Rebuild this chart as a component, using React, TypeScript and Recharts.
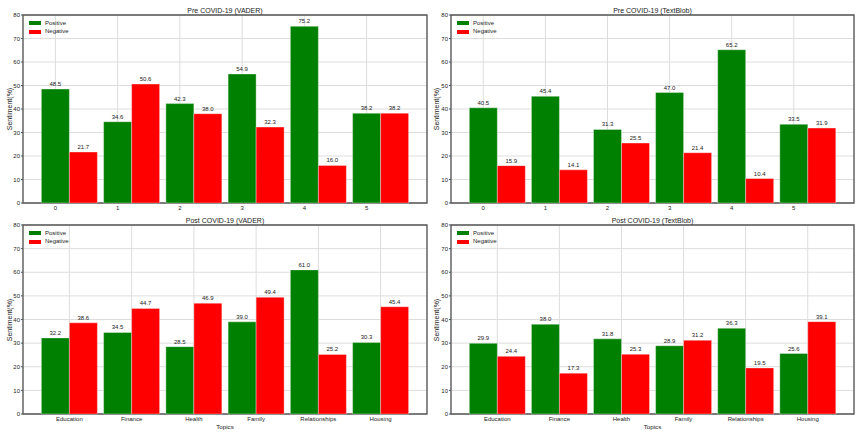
import React from 'react'
import { BarChart, Bar, XAxis, YAxis, CartesianGrid, LabelList, ReferenceArea } from 'recharts'

const TOPICS = ['Education', 'Finance', 'Health', 'Family', 'Relationships', 'Housing']
const TOPIC_IDS = ['0', '1', '2', '3', '4', '5']

const preVaderPos = [48.5, 34.6, 42.3, 54.9, 75.2, 38.2]
const preVaderNeg = [21.7, 50.6, 38.0, 32.3, 16.0, 38.2]
const preBlobPos = [40.5, 45.4, 31.3, 47.0, 65.2, 33.5]
const preBlobNeg = [15.9, 14.1, 25.5, 21.4, 10.4, 31.9]
const postVaderPos = [32.2, 34.5, 28.5, 39.0, 61.0, 30.3]
const postVaderNeg = [38.6, 44.7, 46.9, 49.4, 25.2, 45.4]
const postBlobPos = [29.9, 38.0, 31.8, 28.9, 36.3, 25.6]
const postBlobNeg = [24.4, 17.3, 25.3, 31.2, 19.5, 39.1]

const Y_TICKS = [0, 10, 20, 30, 40, 50, 60, 70, 80]

const GREEN = '#008000'
const RED = '#ff0000'
const FONT = '"Liberation Sans", Arial, sans-serif'
const TEXT = '#222'

// matplotlib-like layout: bar width 0.45, positive at i, negative at i + 0.45
const BAR_W = 0.45

function Txt({ x, y, children, size = 7, rotate = false }: any) {
  return (
    <div
      style={{
        position: 'absolute',
        left: x,
        top: y,
        transform: `translate(-50%, -50%)${rotate ? ' rotate(-90deg)' : ''}`,
        fontSize: size,
        lineHeight: 1,
        whiteSpace: 'nowrap',
        color: TEXT,
      }}
    >
      {children}
    </div>
  )
}

function Panel({ left, top, width, height, yAxisWidth, marginRight, xAxisHeight, title, labels, pos, neg, tickAtGroup, xLabel }: any) {
  const rows = labels.map((l: string, i: number) => ({ x: i + BAR_W / 2, label: l, pos: pos[i], neg: neg[i] }))
  const lo = -BAR_W / 2
  const hi = labels.length - 1 + BAR_W * 1.5
  const pad = (hi - lo) * 0.05
  const domain = [lo - pad, hi + pad]
  const ticks = tickAtGroup ? rows.map((r: any) => r.x) : labels.map((_: string, i: number) => i)
  const fmt = (v: number) => labels[Math.round(tickAtGroup ? v - BAR_W / 2 : v)]

  const plotLeft = left + yAxisWidth
  const plotRight = left + width - marginRight
  const plotTop = top + 15
  const plotBottom = top + height - xAxisHeight
  const cx = (plotLeft + plotRight) / 2

  return (
    <>
      <div style={{ position: 'absolute', left, top }}>
        <BarChart
          width={width}
          height={height}
          data={rows}
          margin={{ top: 15, right: marginRight, bottom: 0, left: 0 }}
          barCategoryGap="5%"
          barGap={0}
        >
          <CartesianGrid stroke="#dddddd" strokeWidth={1} />
          <XAxis
            dataKey="x"
            type="number"
            domain={domain}
            allowDataOverflow
            ticks={ticks}
            tickFormatter={fmt}
            interval={0}
            height={xAxisHeight}
            axisLine={false}
            tickLine={false}
            tickSize={2}
            tickMargin={1}
            tick={{ fontSize: 6, fill: TEXT, fontFamily: FONT }}
          />
          <YAxis
            domain={[0, 80]}
            ticks={Y_TICKS}
            width={yAxisWidth}
            axisLine={false}
            tickSize={2}
            tickMargin={1}
            tickLine={{ stroke: '#555' }}
            tick={{ fontSize: 6, fill: TEXT, fontFamily: FONT }}
          />
          <Bar dataKey="pos" name="Positive" fill={GREEN} stroke="#ffffff" strokeOpacity={0.35} strokeWidth={1} isAnimationActive={false}>
            <LabelList dataKey="pos" position="top" offset={3} formatter={(v: any) => Number(v).toFixed(1)} style={{ fontSize: 6, fill: TEXT, fontFamily: FONT }} />
          </Bar>
          <Bar dataKey="neg" name="Negative" fill={RED} stroke="#ffffff" strokeOpacity={0.35} strokeWidth={1} isAnimationActive={false}>
            <LabelList dataKey="neg" position="top" offset={3} formatter={(v: any) => Number(v).toFixed(1)} style={{ fontSize: 6, fill: TEXT, fontFamily: FONT }} />
          </Bar>
          <ReferenceArea x1={domain[0]} x2={domain[1]} y1={0} y2={80} fill="none" stroke="#555" strokeWidth={1.3} ifOverflow="visible" />
        </BarChart>
      </div>
      <Txt x={cx} y={top + 9.5} size={7}>{title}</Txt>
      <Txt x={left + (left === 0 ? 9 : 6)} y={(plotTop + plotBottom) / 2} size={7} rotate>Sentiment(%)</Txt>
      {xLabel && <Txt x={cx} y={plotBottom + 13} size={6.2}>{xLabel}</Txt>}
      <div style={{ position: 'absolute', left: plotLeft + 5.5, top: plotTop + 6, width: 12, height: 4, background: GREEN }} />
      <div style={{ position: 'absolute', left: plotLeft + 5.5, top: plotTop + 14.8, width: 12, height: 4, background: RED }} />
      <div style={{ position: 'absolute', left: plotLeft + 22, top: plotTop + 4.5, fontSize: 6, lineHeight: 1, color: TEXT }}>Positive</div>
      <div style={{ position: 'absolute', left: plotLeft + 22, top: plotTop + 13.3, fontSize: 6, lineHeight: 1, color: TEXT }}>Negative</div>
    </>
  )
}

export default function App() {
  return (
    <div style={{ position: 'absolute', left: 0, top: 0, width: 861, height: 436, background: '#fff', fontFamily: FONT }}>
      <Panel left={0} top={0} width={430} height={218} yAxisWidth={23} marginRight={3} xAxisHeight={15}
        title="Pre COVID-19 (VADER)" labels={TOPIC_IDS} pos={preVaderPos} neg={preVaderNeg} tickAtGroup={false} />
      <Panel left={430} top={0} width={430} height={218} yAxisWidth={21} marginRight={6} xAxisHeight={15}
        title="Pre COVID-19 (TextBlob)" labels={TOPIC_IDS} pos={preBlobPos} neg={preBlobNeg} tickAtGroup={false} />
      <Panel left={0} top={210} width={430} height={226} yAxisWidth={23} marginRight={3} xAxisHeight={22}
        title="Post COVID-19 (VADER)" labels={TOPICS} pos={postVaderPos} neg={postVaderNeg} tickAtGroup xLabel="Topics" />
      <Panel left={430} top={210} width={430} height={226} yAxisWidth={21} marginRight={6} xAxisHeight={22}
        title="Post COVID-19 (TextBlob)" labels={TOPICS} pos={postBlobPos} neg={postBlobNeg} tickAtGroup xLabel="Topics" />
    </div>
  )
}
